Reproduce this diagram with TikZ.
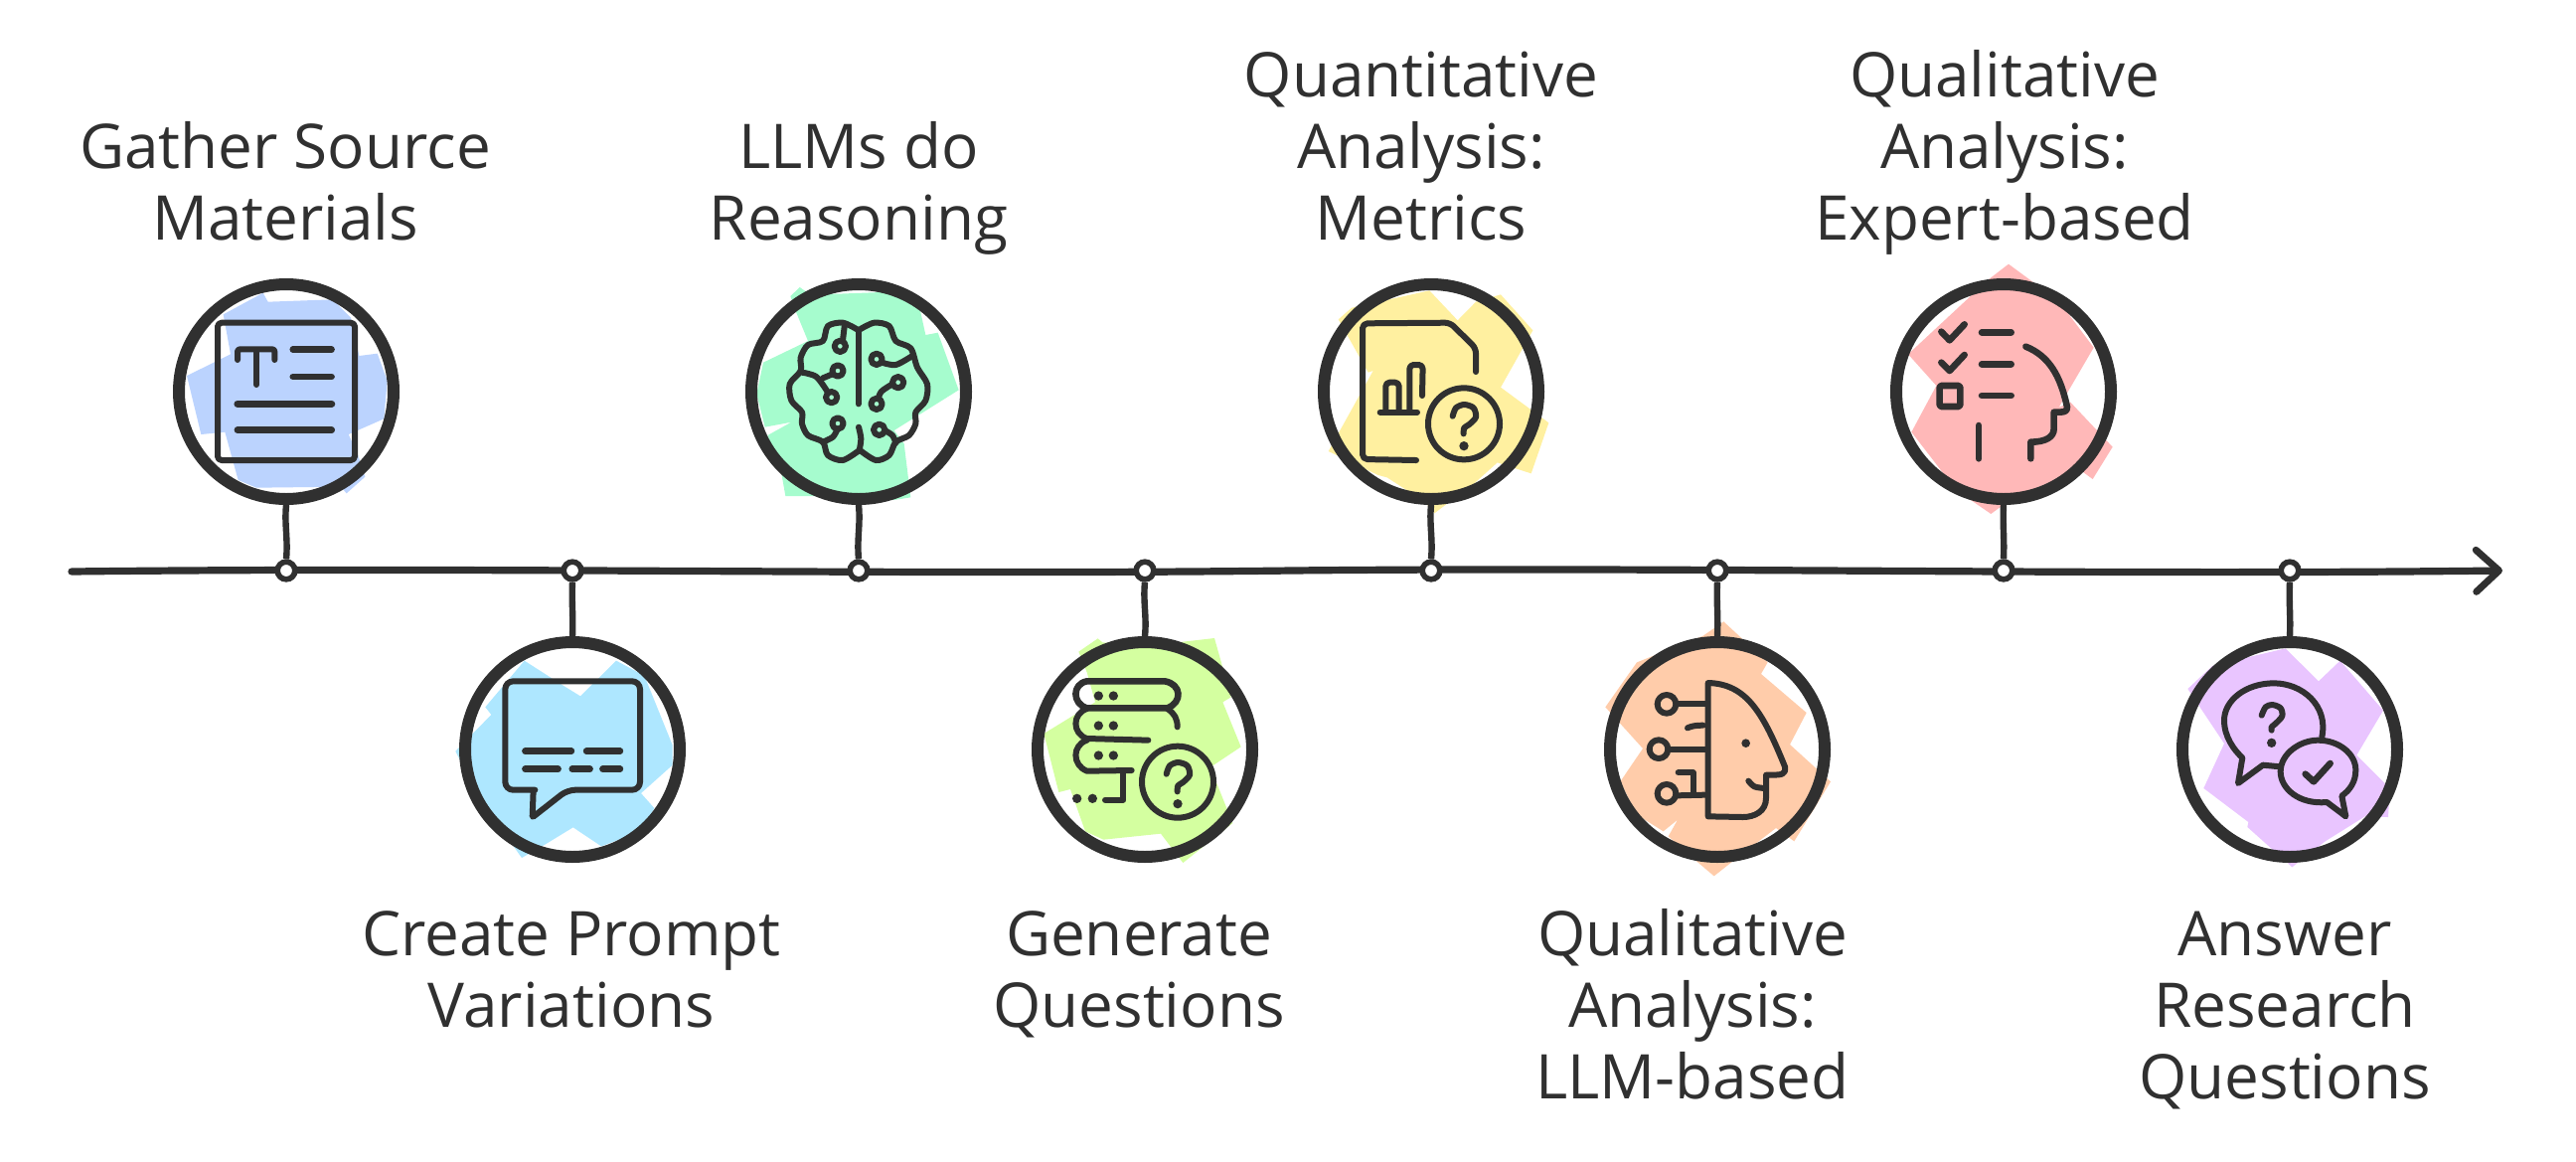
\documentclass[tikz,border=0pt]{standalone}
\usepackage{fontspec}
\setmainfont{Open Sans}
\usetikzlibrary{arrows.meta}
\definecolor{inkc}{HTML}{303030}
\definecolor{cblue}{HTML}{BBD3FE}
\definecolor{csky}{HTML}{AEE7FF}
\definecolor{cmint}{HTML}{A6FCCE}
\definecolor{clime}{HTML}{D4FFA0}
\definecolor{cyell}{HTML}{FFF0A0}
\definecolor{cpeach}{HTML}{FFCCAA}
\definecolor{cpink}{HTML}{FFB8B8}
\definecolor{clilac}{HTML}{E9C5FF}
\tikzset{
  zoomed/.style 2 args={shift={(#1,#2)},x=0.16667pt,y=-0.16667pt},
  ringnode/.style={circle,draw=inkc,line width=6pt,minimum size=108pt,inner sep=0pt},
  dotnode/.style={circle,draw=inkc,fill=white,line width=2.8pt,minimum size=8.8pt,inner sep=0pt},
  axisline/.style={draw=inkc,line width=3.6pt,line cap=round},
  stem/.style={draw=inkc,line width=3.2pt},
  ink/.style={draw=inkc,line width=3pt,line cap=round,line join=round},
  inkb/.style={draw=inkc,line width=3.3pt,line cap=round,line join=round},
  inkdot/.style={fill=inkc},
  lab/.style={anchor=base,align=center,inner sep=0pt,text=inkc,font=\fontsize{31}{36}\selectfont},
}
\newcommand{\qmark}{%
  \draw[ink] plot[smooth] coordinates {(455,467) (465,442) (490,432) (518,442) (525,470) (505,492) (490,502) (488,520)};
  \fill[inkdot] (489,557) circle (14);
}
\begin{document}
\begin{tikzpicture}[x=0.5pt,y=-0.5pt]
\useasboundingbox (0,0) rectangle (2592,1168);

% colour patches
\begin{scope}[zoomed={158}{263}]
\fill[cblue] (320,95)--(335,122)--(530,115)--(585,170)--(610,285)--(665,278)--(695,360)--(685,475)--(578,522)--(605,580)--(628,650)--(572,700)--(555,680)--(300,683)--(245,660)--(205,515)--(133,522)--(90,345)--(222,280)--(200,160)--cycle;
\end{scope}
\begin{scope}[zoomed={445}{623}]
\fill[csky] (248,125)--(365,200)--(417,232)--(525,125)--(610,170)--(695,380)--(695,440)--(600,525)--(640,570)--(600,640)--(480,685)--(395,628)--(310,680)--(240,720)--(215,685)--(100,520)--(40,398)--(148,288)--(130,265)--cycle;
\end{scope}
\begin{scope}[zoomed={733}{263}]
\fill[cmint] (215,78)--(187,105)--(205,155)--(240,240)--(105,305)--(85,400)--(110,500)--(190,485)--(118,525)--(160,640)--(172,708)--(350,708)--(500,720)--(550,712)--(530,550)--(500,510)--(695,388)--(632,215)--(595,222)--(575,130)--(540,90)--(330,98)--(240,95)--cycle;
\end{scope}
\begin{scope}[zoomed={1022}{623}]
\fill[clime] (248,58)--(190,98)--(215,160)--(240,250)--(85,345)--(130,522)--(165,513)--(210,640)--(265,665)--(438,647)--(505,735)--(655,615)--(605,490)--(590,445)--(680,385)--(625,250)--(650,235)--(600,57)--(400,80)--(262,70)--cycle;
\end{scope}
\begin{scope}[zoomed={1310}{263}]
\fill[cyell] (385,88)--(470,178)--(525,122)--(600,100)--(697,208)--(600,380)--(745,487)--(692,640)--(590,607)--(520,670)--(400,760)--(370,725)--(257,652)--(230,645)--(80,573)--(215,330)--(200,335)--(110,175)--(150,140)--cycle;
\end{scope}
\begin{scope}[zoomed={1597}{623}]
\fill[cpeach] (412,7)--(350,50)--(150,130)--(55,265)--(168,390)--(100,490)--(150,590)--(230,640)--(273,605)--(245,655)--(330,730)--(383,775)--(440,730)--(570,630)--(625,670)--(735,490)--(612,378)--(662,282)--(525,165)--(545,130)--cycle;
\end{scope}
\begin{scope}[zoomed={1885}{263}]
\fill[cpink] (408,8)--(347,55)--(105,280)--(190,375)--(115,515)--(250,690)--(355,762)--(425,710)--(625,630)--(662,657)--(722,560)--(595,425)--(560,440)--(665,260)--(560,120)--cycle;
\end{scope}
\begin{scope}[zoomed={2173}{623}]
\fill[clilac] (380,88)--(480,187)--(545,125)--(675,275)--(595,410)--(695,510)--(690,597)--(620,595)--(500,670)--(400,748)--(265,627)--(268,612)--(133,510)--(195,375)--(85,210)--(160,140)--cycle;
\end{scope}

% axis
\coordinate (axL) at (72,575);
\coordinate (axR) at (2518,574);
\draw[axisline,-{Straight Barb[length=11.5pt,width=21pt,line width=3.5pt,round]}] (axL) .. controls (500,570) and (900,579) .. (1300,574) .. controls (1700,570) and (2100,579) .. (axR);

% rings and dots
\foreach \n/\xx/\yy in {1/288/394,2/576/754,3/864/394,4/1152/754,5/1440/394,6/1728/754,7/2016/394,8/2304/754}{
  \node[ringnode] (r\n) at (\xx,\yy) {};
  \node[dotnode] (d\n) at (\xx,574) {};
}
\draw[stem] (r1.south) .. controls +(-2,20) and +(2,-20) .. (d1.north);
\draw[stem] (d2.south) .. controls +(-1,20) and +(1,-20) .. (r2.north);
\draw[stem] (r3.south) .. controls +(2,20) and +(-2,-20) .. (d3.north);
\draw[stem] (d4.south) .. controls +(-2,20) and +(2,-20) .. (r4.north);
\draw[stem] (r5.south) .. controls +(-2,20) and +(2,-20) .. (d5.north);
\draw[stem] (d6.south) .. controls +(-1,20) and +(1,-20) .. (r6.north);
\draw[stem] (r7.south) .. controls +(-1,20) and +(1,-20) .. (d7.north);
\draw[stem] (d8.south) .. controls +(-1,20) and +(1,-20) .. (r8.north);

% icon 1: document
\begin{scope}[zoomed={158}{263}]
\draw[ink,rounded corners=2pt] (183,185) rectangle (597,600);
\draw[ink,rounded corners=1.2pt] (243,297)--(243,265)--(355,265)--(355,297);
\draw[ink] (300,268)--(300,372);
\draw[ink,line width=3.2pt] (410,266)--(527,266);
\draw[ink,line width=3.2pt] (410,348)--(527,348);
\draw[ink,line width=3.6pt] (243,430)--(527,430);
\draw[ink,line width=3.4pt] (243,509)--(527,509);
\end{scope}
% icon 2: speech bubble
\begin{scope}[zoomed={445}{623}]
\draw[ink,rounded corners=4pt] (280,515)--(190,515)--(190,187)--(597,187)--(597,515)--(378,515) [rounded corners=0.5pt] --(272,598)--(275,515);
\foreach \a/\b/\c in {250/390/398,435/537/398,250/350/452,392/446/452,484/537/452}{
  \draw[ink,line width=3.2pt] (\a,\c)--(\b,\c);
}
\end{scope}
% icon 3: brain
\begin{scope}[zoomed={733}{263}]
\draw[ink] plot[smooth] coordinates {(388,205) (345,185) (300,195) (285,240) (240,252) (218,290) (218,330) (185,370) (190,420) (222,455) (222,490) (240,525) (285,545) (300,585) (345,600) (395,570)};
\draw[ink] plot[smooth] coordinates {(397,205) (440,185) (485,195) (505,240) (550,262) (570,320) (600,370) (595,420) (565,455) (565,490) (545,525) (505,545) (485,585) (445,600) (397,570)};
\draw[ink] (392,215)--(392,430);
\draw[ink] plot[smooth] coordinates {(393,500) (400,535) (395,570)};
\foreach \a/\b in {337/256,330/330,311/410,330/489,447/295,512/365,447/430,455/508}{
  \draw[ink] (\a,\b) circle (17);
}
\draw[ink] (350,197)--(345,238);
\draw[ink] (314,340)--(285,352);
\draw[ink] plot[smooth] coordinates {(222,335) (265,348) (300,395)};
\draw[ink] plot[smooth] coordinates {(328,508) (315,530) (285,545)};
\draw[ink] plot[smooth] coordinates {(463,305) (505,312) (555,285)};
\draw[ink] plot[smooth] coordinates {(495,370) (462,392) (452,414)};
\draw[ink] plot[smooth] coordinates {(472,510) (495,525) (505,548)};
\end{scope}
% icon 4: stack and question
\begin{scope}[zoomed={1022}{623}]
\draw[inkb] (215,187)--(450,187) .. controls (500,195) and (505,250) .. (458,268)--(215,268) .. controls (170,255) and (170,195) .. (215,187);
\draw[ink] (458,270) .. controls (480,285) and (488,300) .. (488,325);
\draw[ink] (215,270) .. controls (170,285) and (170,345) .. (215,360)--(400,365);
\draw[ink] (215,365) .. controls (170,380) and (170,440) .. (215,458)--(350,456);
\draw[ink] (325,458)--(325,545)--(270,545);
\foreach \a/\b in {185/541,232/541,250/231,295/231,250/321,295/321,250/411,295/411}{
  \fill[inkdot] (\a,\b) circle (14);
}
\draw[ink] (489,491) circle (108);
\qmark
\end{scope}
% icon 5: file, chart and question
\begin{scope}[zoomed={1310}{263}]
\draw[ink,rounded corners=2.5pt] (345,600)--(183,597)--(183,187)--(447,185)--(525,262)--(525,333);
\draw[ink] (236,455)--(348,455);
\draw[ink,rounded corners=2pt] (253,455)--(253,365)--(293,365)--(293,455);
\draw[ink,rounded corners=2pt] (325,450)--(325,312)--(365,312)--(363,405);
\draw[ink] (489,490) circle (108);
\qmark
\end{scope}
% icon 6: head with circuit
\begin{scope}[zoomed={1597}{623}]
\draw[ink] (365,192) .. controls (480,195) and (530,280) .. (597,445) .. controls (600,470) and (590,470) .. (540,470) -- (540,540) .. controls (540,580) and (505,597) .. (470,597) -- (365,595) -- cycle;
\fill[inkdot] (479,374) circle (13);
\draw[ink] plot[smooth] coordinates {(487,488) (505,505) (535,510)};
\draw[ink] (240,256) circle (28);
\draw[ink] (270,256)--(355,256);
\draw[ink] (303,328) .. controls (315,322) and (330,320) .. (350,320);
\draw[ink] (216,392) circle (28);
\draw[ink] (245,392)--(355,392);
\draw[ink] (240,526) circle (28);
\draw[ink] (270,532)--(355,530);
\draw[ink] (275,463)--(320,463)--(320,520);
\end{scope}
% icon 7: checklist and head
\begin{scope}[zoomed={1885}{263}]
\draw[inkb] (205,212)--(230,238)--(275,190);
\draw[inkb] (205,305)--(230,330)--(275,282);
\draw[inkb,rounded corners=0.8pt] (200,375) rectangle (262,438);
\draw[inkb] (327,214)--(416,214);
\draw[inkb] (327,310)--(416,310);
\draw[inkb] (327,405)--(416,405);
\draw[inkb] (318,495)--(318,595);
\draw[inkb] (460,257) .. controls (530,285) and (565,345) .. (585,440) .. controls (585,455) and (575,455) .. (545,455) -- (545,505) .. controls (545,530) and (520,545) .. (475,545) -- (475,595);
\end{scope}
% icon 8: two bubbles
\begin{scope}[zoomed={2173}{623}]
\draw[ink] (490,355) .. controls (510,260) and (430,193) .. (345,193) .. controls (260,193) and (195,245) .. (195,305) .. controls (195,355) and (225,395) .. (250,418) -- (237,495) -- (312,440) -- (365,445);
\draw[ink] (562,595) -- (505,552) .. controls (420,560) and (365,510) .. (365,460) .. controls (365,405) and (425,365) .. (478,365) .. controls (540,365) and (592,405) .. (592,455) .. controls (592,490) and (575,515) .. (550,533) -- cycle;
\draw[ink] plot[smooth] coordinates {(308,290) (320,265) (340,258) (365,268) (370,292) (350,315) (338,325) (338,335)};
\fill[inkdot] (338,373) circle (14);
\draw[inkb] (440,467)--(465,490)--(515,435);
\end{scope}

% labels (the node's base is the baseline of its last line)
\node[lab] (t1) at (287,241) {Gather Source\\Materials};
\node[lab] (t2) at (575,1033) {Create Prompt\\Variations};
\node[lab] (t3) at (864,241) {LLMs do\\Reasoning};
\node[lab] (t4) at (1146,1033) {Generate\\Questions};
\node[lab] (t5) at (1430,241) {Quantitative\\Analysis:\\Metrics};
\node[lab] (t6) at (1703,1105) {Qualitative\\Analysis:\\LLM-based};
\node[lab] (t7) at (2017,241) {Qualitative\\Analysis:\\Expert-based};
\node[lab] (t8) at (2299,1105) {Answer\\Research\\Questions};
\end{tikzpicture}
\end{document}
